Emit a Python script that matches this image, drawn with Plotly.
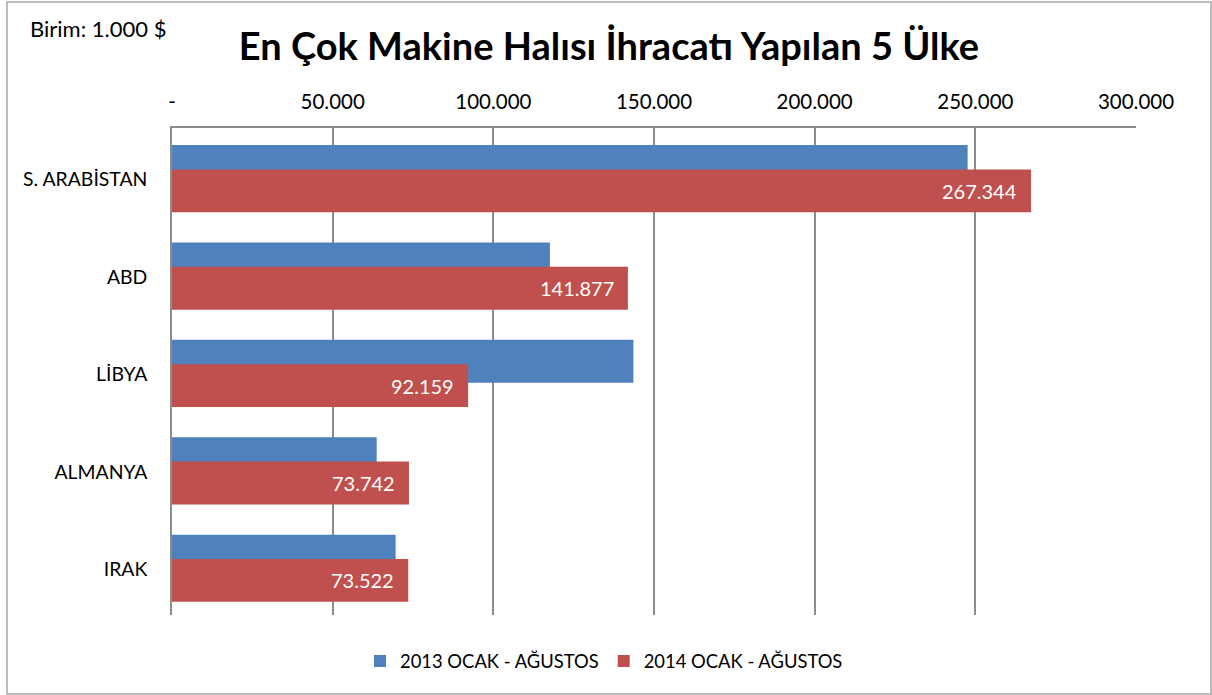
import plotly.graph_objects as go

categories = ["S. ARABİSTAN", "ABD", "LİBYA", "ALMANYA", "IRAK"]
values_2013 = [247600, 117600, 143600, 63700, 69600]
values_2014 = [267344, 141877, 92159, 73742, 73522]
series_names = ["2013 OCAK - AĞUSTOS", "2014 OCAK - AĞUSTOS"]
tick_values = [0, 50000, 100000, 150000, 200000, 250000, 300000]
tick_labels = ["-", "50.000", "100.000", "150.000", "200.000", "250.000", "300.000"]
title_text = "En Çok Makine Halısı İhracatı Yapılan 5 Ülke"
unit_text = "Birim: 1.000 $"

W, H = 1212, 695
L, R, T, B = 172, 76, 128, 80
pw, ph = W - L - R, H - T - B

def px_x(x):
    return (x - L) / pw

def px_y(y):
    return (H - B - y) / ph

FONT = "Lato"
BLUE = "#4F81BD"
RED = "#C0504D"

bw = 0.44
off_blue = -0.325
off_red = -0.075

fig = go.Figure()
fig.add_trace(go.Bar(
    y=categories, x=values_2013, orientation="h", name=series_names[0],
    marker=dict(color=BLUE, line=dict(width=0)), width=bw, offset=off_blue,
    hoverinfo="x+name",
))
fig.add_trace(go.Bar(
    y=categories, x=values_2014, orientation="h", name=series_names[1],
    marker=dict(color=RED, line=dict(width=0)), width=bw, offset=off_red,
    hoverinfo="x+name",
))

cat_px = ph / len(categories)
red_center_shift = -(off_red + bw / 2) * cat_px
for c, v in zip(categories, values_2014):
    fig.add_annotation(
        x=v, y=c, xref="x", yref="y", text=f"{v:,}".replace(",", "."),
        showarrow=False, xanchor="right", yanchor="middle",
        xshift=-12, yshift=red_center_shift,
        font=dict(family=FONT, size=20, color="white"),
    )

fig.add_annotation(
    x=px_x(28), y=px_y(28), xref="paper", yref="paper", text=unit_text,
    showarrow=False, xanchor="left", yanchor="middle",
    font=dict(family=FONT, size=22, color="black"),
)

fig.add_shape(
    type="rect", xref="paper", yref="paper",
    x0=px_x(7), x1=px_x(1211), y0=px_y(694), y1=px_y(2),
    line=dict(color="#A6A6A6", width=1.5), fillcolor="rgba(0,0,0,0)", layer="below",
)

fig.update_layout(
    width=W, height=H,
    margin=dict(l=L, r=R, t=T, b=B, autoexpand=False),
    paper_bgcolor="white", plot_bgcolor="white",
    barmode="overlay",
    title=dict(
        text=title_text, x=px_x(609), xref="paper", xanchor="center",
        y=1 - 47 / H, yref="container", yanchor="middle",
        font=dict(family=FONT, size=38, color="black", weight="bold"),
    ),
    font=dict(family=FONT, color="black"),
    showlegend=True,
    legend=dict(
        orientation="h", x=px_x(604), xanchor="center", y=px_y(661), yanchor="middle",
        font=dict(family=FONT, size=18.4, color="black"),
        traceorder="normal", itemwidth=30,
    ),
    xaxis=dict(
        side="top", range=[0, 300000], tickvals=tick_values, ticktext=tick_labels,
        showgrid=True, gridcolor="#8C8C8C", gridwidth=1.5,
        showline=True, linecolor="#8C8C8C", linewidth=1.5,
        ticks="", ticklabelstandoff=9, zeroline=False,
        tickfont=dict(family=FONT, size=20.5, color="black"),
    ),
    yaxis=dict(
        autorange="reversed", showgrid=False, showline=True,
        linecolor="#8C8C8C", linewidth=1.5, ticks="", ticklabelstandoff=19,
        ticklabelshift=-3,
        tickfont=dict(family=FONT, size=19.4, color="black"),
    ),
)

fig.write_html(
    "out.html",
    config={"displayModeBar": False},
    post_script="document.body.style.margin='0';document.body.style.overflow='hidden';",
)
